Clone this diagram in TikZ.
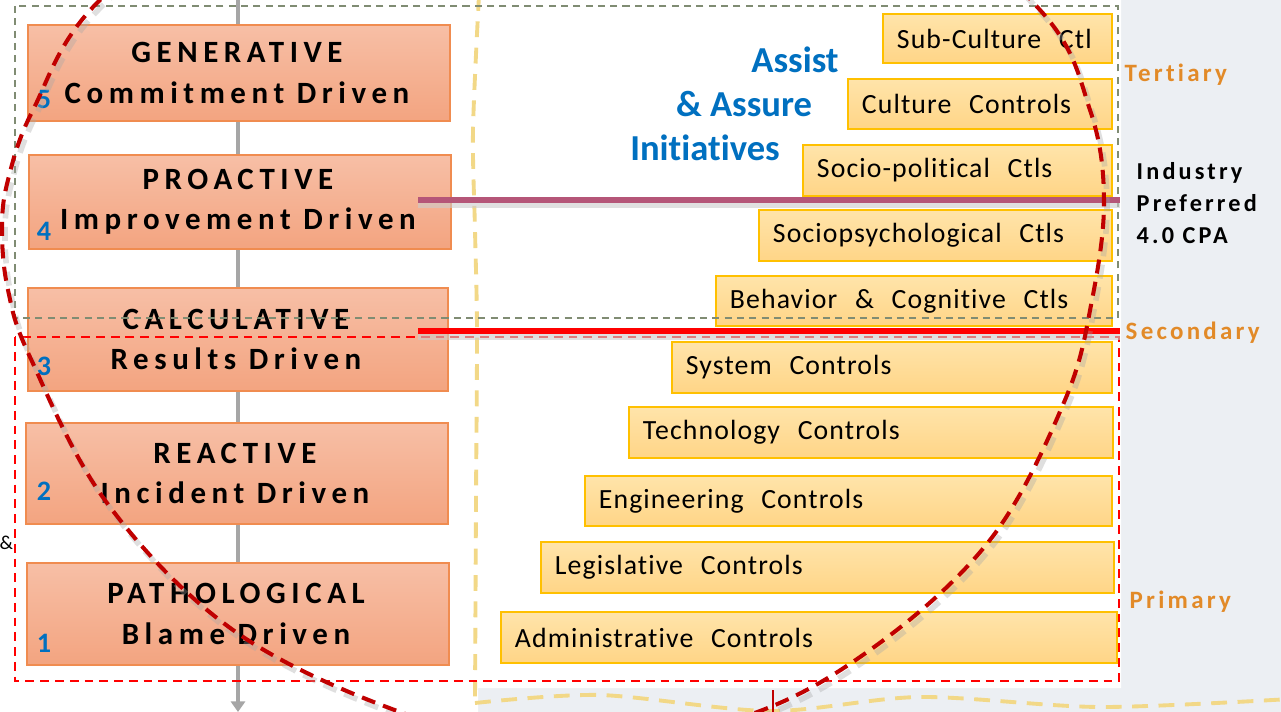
\documentclass[tikz,border=0pt]{standalone}
\usepackage{fontspec}
\setmainfont[Ligatures=NoCommon]{Carlito}
\newfontfamily\levelfont[Ligatures=NoCommon,LetterSpace=18]{Carlito}
\newfontfamily\tierfont[Ligatures=NoCommon,LetterSpace=13]{Carlito}
\newfontfamily\ctlfont[Ligatures=NoCommon,LetterSpace=4,WordSpace=2.4]{Carlito}
\usetikzlibrary{arrows.meta,calc,fit}
\definecolor{levelfill}{RGB}{247,191,166}
\definecolor{levelfillb}{RGB}{243,164,128}
\definecolor{leveldraw}{RGB}{240,140,80}
\definecolor{ctlfill}{RGB}{255,228,170}
\definecolor{ctlfillb}{RGB}{255,213,135}
\definecolor{ctldraw}{RGB}{255,192,0}
\definecolor{numblue}{RGB}{0,112,192}
\definecolor{tierorange}{RGB}{226,138,40}
\definecolor{tiergreen}{RGB}{128,140,115}
\definecolor{cyclered}{RGB}{192,0,0}
\definecolor{prefmauve}{RGB}{181,86,120}
\definecolor{spineyellow}{RGB}{242,216,135}
\definecolor{spinegray}{RGB}{166,166,166}
\definecolor{paper}{RGB}{236,239,243}

\begin{document}
\begin{tikzpicture}[
  x=0.01cm,
  y=-0.01cm,
  level box/.style={
    draw=leveldraw,
    line width=0.6pt,
    top color=levelfill,
    bottom color=levelfillb,
    inner sep=0pt
  },
  level text/.style={
    font=\levelfont\bfseries\fontsize{8.8}{11.4}\selectfont,
    align=center,
    inner sep=0pt
  },
  level num/.style={
    font=\bfseries\fontsize{8}{9}\selectfont,
    text=numblue,
    inner sep=0pt
  },
  ctl box/.style={
    draw=ctldraw,
    line width=0.45pt,
    top color=ctlfill,
    bottom color=ctlfillb,
    inner sep=0pt
  },
  ctl text/.style={
    font=\ctlfont\fontsize{7.9}{9}\selectfont,
    anchor=west,
    inner sep=0pt
  },
  assist text/.style={
    font=\bfseries\fontsize{10.4}{12}\selectfont,
    text=numblue,
    inner sep=0pt
  },
  tier label/.style={
    font=\tierfont\bfseries\fontsize{7.1}{8}\selectfont,
    text=tierorange,
    anchor=west,
    inner sep=0pt
  },
  side note/.style={
    font=\tierfont\bfseries\fontsize{6.9}{9.1}\selectfont,
    align=left,
    anchor=west,
    inner sep=0pt
  },
  spine/.style={
    draw=spinegray,
    line width=1.1pt,
    -{Triangle[length=3pt,width=4pt]}
  },
  tier frame/.style={
    draw=tiergreen,
    line width=0.55pt,
    dash pattern=on 2pt off 1.5pt
  },
  base frame/.style={
    draw=red,
    line width=0.6pt,
    dash pattern=on 2.5pt off 1.7pt
  },
  split line/.style={
    line width=1.5pt
  },
  split shadow/.style={
    draw=black!20,
    line width=1.5pt,
    opacity=0.6
  },
  yellow dash/.style={
    draw=spineyellow,
    line width=1.1pt,
    dash pattern=on 4.5pt off 3pt
  },
  cycle arc/.style={
    draw=cyclered,
    line width=1.15pt,
    dash pattern=on 4pt off 2.4pt
  },
  cycle shadow/.style={
    cycle arc,
    draw=black!35,
    line width=1.6pt,
    opacity=0.35
  }
]

\useasboundingbox (0,0) rectangle (1281,712);
\clip (0,0) rectangle (1281,712);

% paper and the white sheet
\fill[paper] (0,0) rectangle (1281,712);
\fill[white] (0,0) -- (1121,0) -- (1121,688) -- (478,688) -- (478,712) -- (0,712) -- cycle;

% spine behind the maturity levels
\coordinate (spine-top) at (238,0);
\coordinate (spine-end) at (238,712);
\draw[spine] (spine-top) -- (spine-end);

% maturity levels: number/top/bottom/left/right/number y/name/driver
\foreach \lvl/\ya/\yb/\xa/\xb/\yn/\lname/\ldriver in {
  5/25/121/28/450/99/GENERATIVE/Commitment Driven,
  4/155/249/29/451/231/PROACTIVE/Improvement Driven,
  3/288/391/28/448/366/CALCULATIVE/Results Driven,
  2/423/524/26/448/491/REACTIVE/Incident Driven,
  1/563/665/27/449/643/PATHOLOGICAL/Blame Driven
}{
  \coordinate (lvl\lvl-nw) at (\xa,\ya);
  \coordinate (lvl\lvl-se) at (\xb,\yb);
  \node[level box, fit=(lvl\lvl-nw)(lvl\lvl-se)] (lvl\lvl) {};
  \node[level text] (lvl\lvl-text) at ($(lvl\lvl)+(-2,0)$) {\lname\\\ldriver};
  \node[level num] (num\lvl) at (44,\yn) {\lvl};
}

% controls: name/left/top/bottom/right/text
\foreach \cname/\xa/\ya/\yb/\xb/\ctltxt in {
  subculture/883/14/63/1112/Sub-Culture Ctl,
  culture/848/79/129/1112/Culture Controls,
  sociopol/803/145/196/1112/Socio-political Ctls,
  sociopsy/759/210/261/1112/Sociopsychological Ctls,
  behavior/716/276/326/1112/Behavior \& Cognitive Ctls,
  system/672/342/393/1112/System Controls,
  technology/629/407/458/1113/Technology Controls,
  engineering/585/476/526/1112/Engineering Controls,
  legislative/541/542/593/1114/Legislative Controls,
  administrative/501/612/663/1117/Administrative Controls
}{
  \coordinate (\cname-nw) at (\xa,\ya);
  \coordinate (\cname-se) at (\xb,\yb);
  \node[ctl box, fit=(\cname-nw)(\cname-se)] (\cname) {};
  \node[ctl text] (\cname-text) at ($(\cname.west)+(14,0)$) {\ctltxt};
}

\node[assist text] (assist-a) at (795,60) {Assist};
\node[assist text] (assist-b) at (744,104) {\& Assure};
\node[assist text] (assist-c) at (705,148) {Initiatives};

% yellow divider down the middle and along the bottom
\draw[yellow dash] plot[smooth] coordinates
  {(479,-5) (473,130) (475,230) (477,330) (476,500) (475,703)};
\draw[yellow dash] plot[smooth] coordinates
  {(475,703) (600,695) (770,711) (920,697) (1100,707) (1290,699)};

% tier frames
\draw[tier frame] (15,6) rectangle (1118,318);
\draw[base frame] (15,337) rectangle (1119,681);

% industry preferred and secondary split lines
\coordinate (pref-start) at (418,200);
\coordinate (pref-end) at (1120,200);
\coordinate (sec-start) at (418,331);
\coordinate (sec-end) at (1120,331);
\draw[split shadow] ($(pref-start)+(0,5)$) -- ($(pref-end)+(0,5)$);
\draw[split shadow] ($(sec-start)+(0,6)$) -- ($(sec-end)+(0,6)$);
\draw[split line, draw=prefmauve] (pref-start) -- (pref-end);
\draw[split line, draw=red, line width=1.7pt] (sec-start) -- (sec-end);

\node[tier label] (tertiary) at (1124,75) {Tertiary};
\node[tier label] (secondary) at (1125,333) {Secondary};
\node[tier label] (primary) at (1129,602) {Primary};
\node[side note] (preferred) at (1136,203) {Industry\\Preferred\\4.0 CPA};
\node[font=\fontsize{5.6}{6}\selectfont, anchor=west, inner sep=0pt] (amp) at (-1,543) {\&};

% improvement cycle
\begin{scope}[shift={(3,5)}]
  \draw[cycle shadow] plot[smooth cycle, tension=0.6] coordinates {
    (566,-185) (880,-120) (1040,10) (1090,110) (1104,200) (1092,300)
    (1065,400) (990,540) (870,650) (740,718) (560,750) (400,712)
    (233,630) (107,503) (30,357) (8,290) (2,230) (8,180) (33,110)
    (100,0) (280,-130)};
\end{scope}
\draw[cycle arc] plot[smooth cycle, tension=0.6] coordinates {
  (566,-185) (880,-120) (1040,10) (1090,110) (1104,200) (1092,300)
  (1065,400) (990,540) (870,650) (740,718) (560,750) (400,712)
  (233,630) (107,503) (30,357) (8,290) (2,230) (8,180) (33,110)
  (100,0) (280,-130)};
\coordinate (cycle-tick) at (773,690);
\draw[cyclered, line width=0.6pt] (cycle-tick) -- ++(0,22);

\end{tikzpicture}
\end{document}
